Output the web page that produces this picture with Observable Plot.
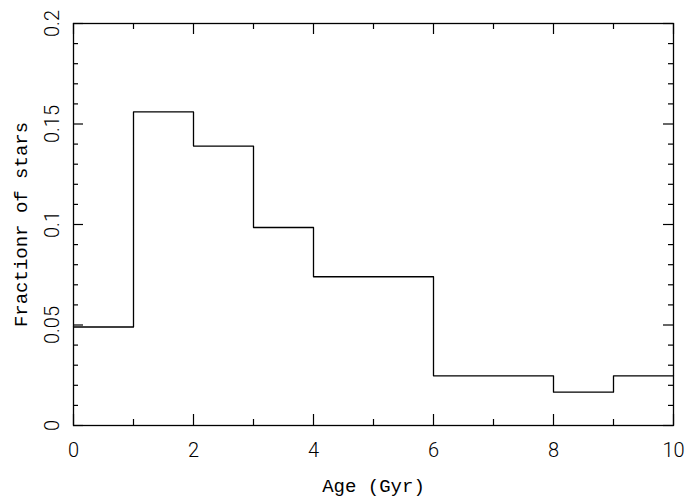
<!DOCTYPE html>
<html>
<head>
<meta charset="utf-8">
<script src="https://cdn.jsdelivr.net/npm/d3@7"></script>
<script src="https://cdn.jsdelivr.net/npm/@observablehq/plot@0.6"></script>
<style>
  html, body { margin: 0; padding: 0; background: #fff; }
  #chart svg { display: block; }
</style>
</head>
<body>
<div id="chart"></div>
<script>
// Histogram bin edges (Age, Gyr) and fraction of stars per bin
const binStart = [0, 1, 2, 3, 4, 6, 8, 9];
const binEnd   = [1, 2, 3, 4, 6, 8, 9, 10];
const fraction = [0.049, 0.156, 0.139, 0.0985, 0.074, 0.0247, 0.0166, 0.0247];

const xMajor = [0, 2, 4, 6, 8, 10];
const xMinor = [1, 3, 5, 7, 9];
const yMajor = [0, 0.05, 0.1, 0.15, 0.2];
const yMinor = [0.01, 0.02, 0.03, 0.04, 0.06, 0.07, 0.08, 0.09, 0.11, 0.12, 0.13, 0.14, 0.16, 0.17, 0.18, 0.19];
const yLabels = ["0", "0.05", "0.1", "0.15", "0.2"];

// step path points built from bins
const steps = binStart.map((s, i) => ({x: s, y: fraction[i]}));
steps.push({x: binEnd[binEnd.length - 1], y: fraction[fraction.length - 1]});

const W = 687, H = 502;
const mL = 73, mR = 14, mT = 23, mB = 77;
const pxX = (W - mL - mR) / 10;     // px per x unit
const pxY = (H - mT - mB) / 0.2;    // px per y unit
const majX = 11 / pxY, minX = 6 / pxY;   // tick lengths (in y units) for x ticks
const majY = 10 / pxX, minY = 5 / pxX;   // tick lengths (in x units) for y ticks

const tickFont = "Roboto, 'Liberation Sans', sans-serif";
const titleFont = "'Liberation Mono', 'DejaVu Sans Mono', monospace";

const plot = Plot.plot({
  width: W,
  height: H,
  marginLeft: mL,
  marginRight: mR,
  marginTop: mT,
  marginBottom: mB,
  style: {background: "#fff", color: "#000"},
  x: {domain: [0, 10], axis: null},
  y: {domain: [0, 0.2], axis: null},
  marks: [
    Plot.frame({stroke: "#000", strokeWidth: 1.3}),
    // bottom / top ticks
    Plot.ruleX(xMajor, {x: d => d, y1: 0, y2: majX, stroke: "#000", strokeWidth: 1.2}),
    Plot.ruleX(xMinor, {x: d => d, y1: 0, y2: minX, stroke: "#000", strokeWidth: 1.2}),
    Plot.ruleX(xMajor, {x: d => d, y1: 0.2 - majX, y2: 0.2, stroke: "#000", strokeWidth: 1.2}),
    Plot.ruleX(xMinor, {x: d => d, y1: 0.2 - minX, y2: 0.2, stroke: "#000", strokeWidth: 1.2}),
    // left / right ticks
    Plot.ruleY(yMajor, {y: d => d, x1: 0, x2: majY, stroke: "#000", strokeWidth: 1.2}),
    Plot.ruleY(yMinor, {y: d => d, x1: 0, x2: minY, stroke: "#000", strokeWidth: 1.2}),
    Plot.ruleY(yMajor, {y: d => d, x1: 10 - majY, x2: 10, stroke: "#000", strokeWidth: 1.2}),
    Plot.ruleY(yMinor, {y: d => d, x1: 10 - minY, x2: 10, stroke: "#000", strokeWidth: 1.2}),
    // histogram step line
    Plot.line(steps, {x: "x", y: "y", curve: "step-after", stroke: "#000", strokeWidth: 1.3}),
    // tick labels
    Plot.text(xMajor, {x: d => d, y: 0, text: d => String(d), dy: 25, fontSize: 20, fontFamily: tickFont, fontWeight: 300, fill: "#000"}),
    Plot.text(yMajor, {x: 0, y: d => d, text: (d, i) => yLabels[i], dx: -21, rotate: -90, fontSize: 20, fontFamily: tickFont, fontWeight: 300, fill: "#000"}),
    // axis titles
    Plot.text(["Age (Gyr)"], {x: 5, y: 0, text: d => d, dy: 60, fontSize: 19, fontFamily: titleFont, fill: "#000"}),
    Plot.text(["Fractionr of stars"], {x: 0, y: 0.1, text: d => d, dx: -53, rotate: -90, fontSize: 19, fontFamily: titleFont, fill: "#000"})
  ]
});
document.getElementById("chart").appendChild(plot);
</script>
</body>
</html>
